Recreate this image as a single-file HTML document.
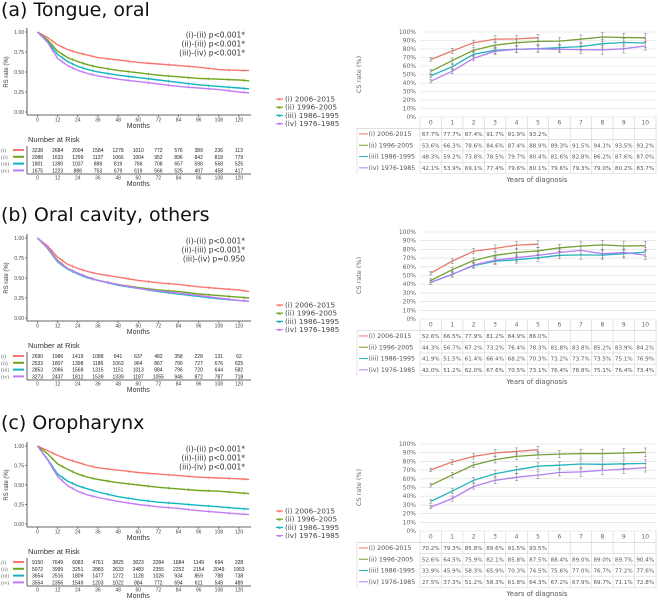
<!DOCTYPE html>
<html><head><meta charset="utf-8"><style>
html,body{margin:0;padding:0;background:#fff;}
svg{display:block;font-family:"DejaVu Sans","Liberation Sans",sans-serif;}
</style></head><body>
<svg id="fig" width="658" height="601" viewBox="0 0 658 601" xmlns="http://www.w3.org/2000/svg"></svg>
<script>
// ---------- DATA ----------
const kmMonths = [0,6,12,18,24,30,36,48,60,72,84,96,108,120,126];
const kmA_i   = [1,0.93,0.84,0.78,0.74,0.71,0.68,0.65,0.62,0.60,0.58,0.56,0.53,0.52,0.52];
const kmA_ii  = [1,0.90,0.76,0.68,0.63,0.59,0.56,0.52,0.49,0.46,0.44,0.42,0.41,0.40,0.39];
const kmA_iii = [1,0.88,0.72,0.63,0.57,0.53,0.50,0.46,0.43,0.40,0.37,0.34,0.32,0.30,0.29];
const kmA_iv  = [1,0.87,0.67,0.58,0.52,0.48,0.45,0.41,0.38,0.35,0.32,0.30,0.28,0.25,0.24];
const kmB_i   = [1,0.90,0.76,0.67,0.62,0.58,0.55,0.51,0.47,0.44,0.42,0.39,0.37,0.35,0.33];
const kmB_ii  = [1,0.88,0.72,0.62,0.56,0.51,0.47,0.42,0.38,0.35,0.33,0.30,0.28,0.26,0.25];
const kmB_iii = [1,0.87,0.70,0.61,0.55,0.50,0.47,0.41,0.37,0.33,0.30,0.27,0.24,0.22,0.21];
const kmB_iv  = [1,0.88,0.71,0.62,0.56,0.51,0.47,0.42,0.37,0.34,0.31,0.28,0.25,0.22,0.21];
const kmC_i   = [1,0.94,0.88,0.83,0.79,0.75,0.72,0.69,0.66,0.64,0.62,0.60,0.59,0.58,0.57];
const kmC_ii  = [1,0.90,0.77,0.70,0.64,0.60,0.57,0.53,0.50,0.47,0.45,0.43,0.42,0.40,0.39];
const kmC_iii = [1,0.83,0.64,0.55,0.49,0.45,0.41,0.35,0.31,0.28,0.26,0.24,0.22,0.20,0.19];
const kmC_iv  = [1,0.82,0.61,0.49,0.42,0.37,0.34,0.29,0.25,0.22,0.20,0.17,0.15,0.13,0.12];
const kmYTicks = ["0.00","0.25","0.50","0.75","1.00"];
const kmXTicks = [0,12,24,36,48,60,72,84,96,108,120];
const riskA = [[3238,2684,2004,1584,1278,1010,772,576,389,236,113],[2088,1633,1299,1137,1066,1004,952,896,842,818,779],[1801,1390,1037,888,819,766,708,657,598,558,525],[1675,1223,888,753,679,619,566,525,497,458,417]];
const riskB = [[2690,1986,1419,1088,841,637,482,358,228,131,62],[2533,1807,1398,1186,1063,964,867,790,727,676,625],[2853,2066,1568,1315,1151,1013,884,796,720,644,582],[3273,2437,1812,1539,1339,1187,1055,946,872,787,718]];
const riskC = [[9150,7649,6083,4761,3825,3023,2284,1684,1149,694,328],[5072,3999,3251,2883,2633,2483,2355,2252,2154,2049,1953],[3654,2516,1809,1477,1272,1128,1026,934,859,788,738],[3554,2356,1549,1203,1022,884,772,694,611,549,489]];
const pA = ["(i)-(ii) p<0.001*","(ii)-(iii) p<0.001*","(iii)-(iv) p<0.001*"];
const pB = ["(i)-(ii) p<0.001*","(ii)-(iii) p<0.001*","(iii)-(iv) p=0.950"];
const pC = ["(i)-(ii) p<0.001*","(ii)-(iii) p<0.001*","(iii)-(iv) p<0.001*"];
const csYears = [0,1,2,3,4,5,6,7,8,9,10];
const csA_i   = [67.7,77.7,87.4,91.7,91.9,93.2];
const csA_ii  = [53.6,66.3,78.6,84.6,87.4,88.9,89.3,91.5,94.1,93.5,93.2];
const csA_iii = [48.3,59.2,73.8,78.5,79.7,80.4,81.6,82.8,86.2,87.6,87.0];
const csA_iv  = [42.1,53.9,69.1,77.4,79.6,80.1,79.6,79.3,79.0,80.2,83.7];
const csB_i   = [52.6,66.5,77.9,81.2,84.9,86.0];
const csB_ii  = [44.3,56.7,67.2,73.2,76.4,78.3,81.8,83.8,85.2,83.9,84.2];
const csB_iii = [41.9,51.5,61.4,66.4,68.2,70.3,73.2,73.7,73.5,75.1,76.9];
const csB_iv  = [42.0,51.2,62.0,67.6,70.5,73.1,76.4,78.8,75.1,76.4,73.4];
const csC_i   = [70.2,79.3,85.8,89.6,91.5,93.5];
const csC_ii  = [52.6,64.5,75.9,82.1,85.8,87.5,88.4,89.0,89.0,89.7,90.4];
const csC_iii = [33.9,45.9,58.3,65.9,70.3,74.5,75.6,77.0,76.7,77.2,77.6];
const csC_iv  = [27.5,37.3,51.2,58.3,61.8,64.3,67.2,67.9,69.7,71.1,72.8];
const csErr = [2,3,3,4,4,4,4,5,5,5,5];
const csYTicks = [0,10,20,30,40,50,60,70,80,90,100];
const seriesNames = ["(i)  2006-2015","(ii)  1996-2005","(iii) 1986-1995","(iv) 1976-1985"];
const legendNames = ["(i)   2006\u20132015","(ii)  1996\u20132005","(iii) 1986\u20131995","(iv) 1976\u20131985"];
const romans = ["(i)","(ii)","(iii)","(iv)"];
const kmColors = ["#f8766d","#6fa51c","#10b5bf","#c37cf5"];
const csColors = ["#e8776c","#72a030","#22b4bf","#b27ff0"];

const panels = [
 {title:"(a) Tongue, oral", km:[kmA_i,kmA_ii,kmA_iii,kmA_iv], risk:riskA, p:pA, cs:[csA_i,csA_ii,csA_iii,csA_iv], ky1:32, ky0:112, tY:16, rT:32, rB:117},
 {title:"(b) Oral cavity, others", km:[kmB_i,kmB_ii,kmB_iii,kmB_iv], risk:riskB, p:pB, cs:[csB_i,csB_ii,csB_iii,csB_iv], ky1:238, ky0:318, tY:221, rT:232, rB:319},
 {title:"(c) Oropharynx", km:[kmC_i,kmC_ii,kmC_iii,kmC_iv], risk:riskC, p:pC, cs:[csC_i,csC_ii,csC_iii,csC_iv], ky1:446, ky0:524, tY:429, rT:444, rB:531}
];

const NS="http://www.w3.org/2000/svg";
const svg=document.getElementById('fig');
function mk(tag,attrs,parent,text){const e=document.createElementNS(NS,tag);for(const k in attrs)e.setAttribute(k,attrs[k]);if(text!==undefined)e.textContent=text;(parent||svg).appendChild(e);return e;}

panels.forEach((P,pi)=>{
  const g=mk('g',{});
  
  
  const t=mk('text',{x:1,y:P.tY,'font-size':19,fill:'#111'},g,P.title);
  
  

  // ---- KM plot ----
  const x0=37.5, x120=239;
  const kx=m=>x0+(x120-x0)*m/120;
  const ky=v=>P.ky0+(P.ky1-P.ky0)*v;
  const axL=27, axB=P.ky0+3;
  const ax=mk('g',{},g);
  
  
  mk('line',{x1:axL,y1:P.ky1-4,x2:axL,y2:axB,stroke:'#333','stroke-width':0.8},ax);
  mk('line',{x1:axL,y1:axB,x2:kx(126)+2,y2:axB,stroke:'#333','stroke-width':0.8},ax);
  kmYTicks.forEach((lab,i)=>{const y=ky(i*0.25);
    mk('line',{x1:axL-2,y1:y,x2:axL,y2:y,stroke:'#333','stroke-width':0.6},ax);
    const tt=mk('text',{x:axL-3,y:y+2,'font-size':5,'text-anchor':'end',fill:'#444','font-family':'Liberation Sans'},ax,lab);
    
    });
  kmXTicks.forEach(m=>{const x=kx(m);
    mk('line',{x1:x,y1:axB,x2:x,y2:axB+2,stroke:'#333','stroke-width':0.6},ax);
    const tt=mk('text',{x:x,y:axB+6.5,'font-size':5,'text-anchor':'middle',fill:'#444','font-family':'Liberation Sans'},ax,m);
    
    });
  const xl=mk('text',{x:kx(60),y:axB+13,'font-size':7,'text-anchor':'middle',fill:'#333','font-family':'Liberation Sans'},ax,'Months');
  
  
  const yl=mk('text',{x:0,y:0,'font-size':6,'text-anchor':'middle',fill:'#333','font-family':'Liberation Sans',transform:`translate(8,${(P.ky0+P.ky1)/2}) rotate(-90)`},ax,'RS rate (%)');
  
  
  P.km.forEach((s,si)=>{
    let d='';
    s.forEach((v,i)=>{d+=(i?'L':'M')+kx(kmMonths[i]).toFixed(1)+','+ky(v).toFixed(1);});
    const pth=mk('path',{d:d,fill:'none',stroke:kmColors[si],'stroke-width':1.4},g);
    
    
    for(let i=1;i<s.length-1;i++){const mm=(kmMonths[i]+kmMonths[i+1])/2;const vv=(s[i]+s[i+1])/2;
      mk('line',{x1:kx(mm),y1:ky(vv)-1.5,x2:kx(mm),y2:ky(vv)+1.5,stroke:kmColors[si],'stroke-width':0.6},g);}
  });
  P.p.forEach((txt,i)=>{const tt=mk('text',{x:245,y:P.ky1+5.5+i*9,'font-size':7.5,'text-anchor':'end',fill:'#333'},g,txt);
    
    });
  // legend
  legendNames.forEach((nm,i)=>{const y=P.ky0-13+i*8.2;
    const le=mk('g',{},g);
    
    
    mk('line',{x1:276,y1:y,x2:283,y2:y,stroke:kmColors[i],'stroke-width':1.2},le);
    mk('path',{d:`M278,${y+1.3}L279.5,${y-1.3}L281,${y+1.3}Z`,fill:kmColors[i]},le);
    mk('text',{x:285,y:y+2.4,'font-size':7.2,fill:'#444'},le,nm);});
  // risk table
  const rt=mk('g',{},g);
  
  
  mk('text',{x:28,y:P.ky0+30,'font-size':7.5,fill:'#333','font-family':'Liberation Sans'},rt,'Number at Risk');
  P.risk.forEach((row,ri)=>{const y=P.ky0+38+ri*6.8;
    mk('text',{x:1,y:y+2,'font-size':5.5,fill:'#666','font-family':'Liberation Serif'},rt,romans[ri]);
    mk('line',{x1:13,y1:y,x2:24,y2:y,stroke:kmColors[ri],'stroke-width':2},rt);
    row.forEach((n,ci)=>mk('text',{x:kx(kmXTicks[ci]),y:y+2,'font-size':5,'text-anchor':'middle',fill:'#222','font-family':'Liberation Sans'},rt,n));});
  const rb=P.ky0+62;
  mk('line',{x1:axL,y1:P.ky0+34,x2:axL,y2:rb,stroke:'#333','stroke-width':0.8},rt);
  mk('line',{x1:axL,y1:rb,x2:kx(126)+2,y2:rb,stroke:'#333','stroke-width':0.8},rt);
  kmXTicks.forEach(m=>{mk('text',{x:kx(m),y:rb+5.5,'font-size':5,'text-anchor':'middle',fill:'#444','font-family':'Liberation Sans'},rt,m);});
  mk('text',{x:kx(60),y:rb+12,'font-size':7,'text-anchor':'middle',fill:'#333','font-family':'Liberation Sans'},rt,'Months');

  // ---- CS chart ----
  const cL=420, cR=656, cw=(cR-cL)/11;
  const cx=yr=>cL+cw*(yr+0.5);
  const cy=v=>P.rB+(P.rT-P.rB)*v/100;
  const cg=mk('g',{},g);
  
  
  csYTicks.forEach(v=>{const y=cy(v);
    mk('line',{x1:cL,y1:y,x2:cR,y2:y,stroke:'#dcdcdc','stroke-width':0.6},cg);
    const tt=mk('text',{x:cL-4,y:y+2,'font-size':6,'text-anchor':'end',fill:'#666'},cg,v+'%');
    
    });
  const cyl=mk('text',{x:0,y:0,'font-size':6.5,'text-anchor':'middle',fill:'#666',transform:`translate(361,${(P.rT+P.rB)/2}) rotate(-90)`},cg,'CS rate (%)');
  
  
  P.cs.forEach((s,si)=>{
    let d='';
    s.forEach((v,i)=>{d+=(i?'L':'M')+cx(csYears[i]).toFixed(1)+','+cy(v).toFixed(1);});
    const pth=mk('path',{d:d,fill:'none',stroke:csColors[si],'stroke-width':1.3},cg);
    
    
    s.forEach((v,i)=>{const x=cx(csYears[i]);const e=csErr[i];
      mk('path',{d:`M${x},${cy(v-e)}V${cy(v+e)}M${x-1.5},${cy(v-e)}H${x+1.5}M${x-1.5},${cy(v+e)}H${x+1.5}`,stroke:'#777','stroke-width':0.5,fill:'none'},cg);});
  });
  // data table
  const tb=mk('g',{},cg);
  
  
  const tL=357, hT=P.rB, rh=11.3;
  const tBot=hT+rh*5;
  mk('line',{x1:cL,y1:hT,x2:cL,y2:tBot,stroke:'#d4d4d4','stroke-width':0.6},tb);
  mk('line',{x1:tL,y1:hT+rh,x2:tL,y2:tBot,stroke:'#d4d4d4','stroke-width':0.6},tb);
  for(let c=1;c<=11;c++)mk('line',{x1:cL+cw*c,y1:hT,x2:cL+cw*c,y2:tBot,stroke:'#d4d4d4','stroke-width':0.6},tb);
  for(let r=1;r<=5;r++)mk('line',{x1:r==1?tL:cL,y1:hT+rh*r,x2:cR,y2:hT+rh*r,stroke:'#d4d4d4','stroke-width':0.6},tb);
  mk('line',{x1:tL,y1:hT+rh,x2:cR,y2:hT+rh,stroke:'#d4d4d4','stroke-width':0.6},tb);
  csYears.forEach(yr=>mk('text',{x:cx(yr),y:hT+7.5,'font-size':6,'text-anchor':'middle',fill:'#666'},tb,yr));
  P.cs.forEach((s,si)=>{const y=hT+rh*(si+1)+rh/2;
    mk('line',{x1:tL+2,y1:y,x2:tL+11,y2:y,stroke:csColors[si],'stroke-width':1},tb);
    mk('text',{x:tL+11.5,y:y+2.1,'font-size':6.3,fill:'#555'},tb,seriesNames[si]);
    s.forEach((v,i)=>mk('text',{x:cx(csYears[i]),y:y+2,'font-size':5.6,'text-anchor':'middle',fill:'#555'},tb,v.toFixed(1)+'%'));});
  const xt=mk('text',{x:537,y:P.rB+65,'font-size':6.8,'text-anchor':'middle',fill:'#555'},cg,'Years of diagnosis');
  
  
});
</script>
</body></html>
